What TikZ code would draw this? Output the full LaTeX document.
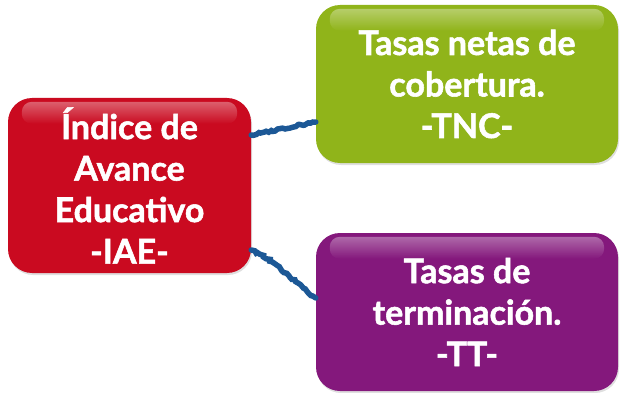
\documentclass[tikz,border=0pt]{standalone}
\usepackage{fontspec}
\setmainfont{Lato}[BoldFeatures={FakeBold=1.6}]
\usetikzlibrary{shadows,fadings,decorations.pathmorphing}
\definecolor{boxred}{RGB}{202,10,32}
\definecolor{boxgreen}{RGB}{144,180,26}
\definecolor{boxpurple}{RGB}{132,24,124}
\definecolor{connblue}{RGB}{28,88,150}
\tikzset{
  box/.style={rounded corners=24pt, inner sep=0pt, align=center, text=white,
    font=\fontsize{34}{41.5}\selectfont\bfseries,
    drop shadow={opacity=0.25, shadow xshift=1pt, shadow yshift=-2pt}},
  gloss/.style={fill=white, opacity=0.35, path fading=south, rounded corners=10pt},
  conn/.style={draw=connblue, line width=5.5pt, line cap=round,
    decorate, decoration={random steps, segment length=2.5pt, amplitude=1.1pt}}
}
\begin{document}
\begin{tikzpicture}[x=1pt,y=-1pt]
\useasboundingbox (0,0) rectangle (621,393);
\node[box, fill=boxred, minimum width=243pt, minimum height=175pt] (iae) at (129.5,185.5)
  {Índice de\\Avance\\Educativo\\-IAE-};
\node[box, fill=boxgreen, minimum width=302pt, minimum height=158pt] (tnc) at (467,84)
  {Tasas netas de\\cobertura.\\-TNC-};
\node[box, fill=boxpurple, minimum width=302pt, minimum height=158pt] (tt) at (467,312)
  {Tasas de\\terminación.\\-TT-};
\fill[gloss] ([xshift=14pt,yshift=-4pt]iae.north west) rectangle ([xshift=-14pt,yshift=-26pt]iae.north east);
\fill[gloss] ([xshift=14pt,yshift=-4pt]tnc.north west) rectangle ([xshift=-14pt,yshift=-26pt]tnc.north east);
\fill[gloss] ([xshift=14pt,yshift=-4pt]tt.north west) rectangle ([xshift=-14pt,yshift=-26pt]tt.north east);
\path[conn] ([yshift=50.5pt]iae.east) -- ([yshift=-38pt]tnc.west);
\path[conn] ([yshift=-64.5pt]iae.east) .. controls +(30,14) and +(-25,-18) .. ([yshift=14pt]tt.west);
\end{tikzpicture}
\end{document}
